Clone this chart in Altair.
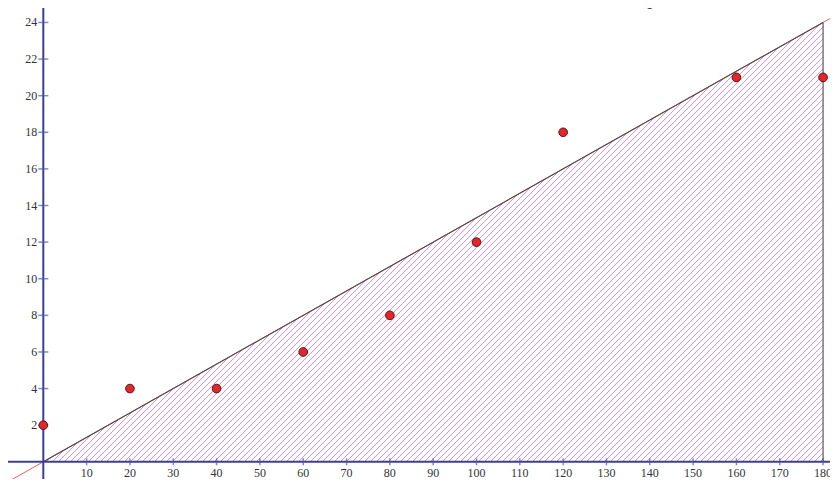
import altair as alt
import pandas as pd

# data
x_vals = [0, 20, 40, 60, 80, 100, 120, 140, 160, 180]
y_vals = [2, 4, 4, 6, 8, 12, 18, 25, 21, 21]
line_x = [0, 180]
line_y = [0, 24]
x_ticks = list(range(10, 190, 10))
y_ticks = list(range(2, 26, 2))

X_DOM = [-8.15, 181.6]
Y_DOM = [-0.94, 24.79]
W, H = 822, 471

xs = alt.Scale(domain=X_DOM, nice=False, zero=False)
ys = alt.Scale(domain=Y_DOM, nice=False, zero=False)

slope = (line_y[1] - line_y[0]) / (line_x[1] - line_x[0])

# decorative hatching inside the triangle (45 degrees on screen, ~6 px apart)
px_x = W / (X_DOM[1] - X_DOM[0])
px_y = H / (Y_DOM[1] - Y_DOM[0])
hs = px_x / px_y
step = 6.0 / px_x
hatch = []
c = step / 2
while c < line_x[1]:
    xe = hs * c / (hs - slope)
    if xe > line_x[1]:
        xe = line_x[1]
    hatch.append({"x": c, "y": 0, "x2": xe, "y2": hs * (xe - c)})
    c += step
hatch_df = pd.DataFrame(hatch)

pts = pd.DataFrame({"x": x_vals, "y": y_vals})

hatch_layer = alt.Chart(hatch_df).mark_rule(color="#da8cd3", strokeWidth=1, clip=True).encode(
    x=alt.X("x:Q", scale=xs, axis=None), y=alt.Y("y:Q", scale=ys, axis=None),
    x2="x2:Q", y2="y2:Q")

red_df = pd.DataFrame({"x": [X_DOM[0]], "y": [slope * X_DOM[0]], "x2": [X_DOM[1]], "y2": [slope * X_DOM[1]]})
red_layer = alt.Chart(red_df).mark_rule(color="#ff5a5a", strokeWidth=1, clip=True).encode(
    x=alt.X("x:Q", scale=xs, axis=None), y=alt.Y("y:Q", scale=ys, axis=None), x2="x2:Q", y2="y2:Q")

black_df = pd.DataFrame({"x": [line_x[0], line_x[1]], "y": [line_y[0], 0],
                         "x2": [line_x[1], line_x[1]], "y2": [line_y[1], line_y[1]]})
black_layer = alt.Chart(black_df).mark_rule(color="#4a4a4a", strokeWidth=1.1, clip=True).encode(
    x=alt.X("x:Q", scale=xs, axis=None), y=alt.Y("y:Q", scale=ys, axis=None), x2="x2:Q", y2="y2:Q")

axes_df = pd.DataFrame({"x": [X_DOM[0], 0], "y": [0, Y_DOM[0]], "x2": [X_DOM[1], 0], "y2": [0, Y_DOM[1]]})
axes_layer = alt.Chart(axes_df).mark_rule(color="#3b3f98", strokeWidth=2, clip=True).encode(
    x=alt.X("x:Q", scale=xs, axis=None), y=alt.Y("y:Q", scale=ys, axis=None), x2="x2:Q", y2="y2:Q")

xt_df = pd.DataFrame({"x": x_ticks, "y": [0] * len(x_ticks), "t": [str(v) for v in x_ticks]})
yt_df = pd.DataFrame({"x": [0] * len(y_ticks), "y": y_ticks, "t": [str(v) for v in y_ticks]})

xtick_layer = alt.Chart(xt_df).mark_tick(orient="vertical", color="#5055a8", size=7, thickness=1.5).encode(
    x=alt.X("x:Q", scale=xs, axis=None), y=alt.Y("y:Q", scale=ys, axis=None))
ytick_layer = alt.Chart(yt_df).mark_tick(orient="horizontal", color="#5055a8", size=10, thickness=1.5).encode(
    x=alt.X("x:Q", scale=xs, axis=None), y=alt.Y("y:Q", scale=ys, axis=None))

xlab_layer = alt.Chart(xt_df).mark_text(font="Liberation Serif", fontSize=12, color="#333333",
                                        baseline="alphabetic", dy=15).encode(
    x=alt.X("x:Q", scale=xs, axis=None), y=alt.Y("y:Q", scale=ys, axis=None), text="t:N")
ylab_layer = alt.Chart(yt_df).mark_text(font="Liberation Serif", fontSize=12, color="#333333",
                                        align="right", baseline="middle", dx=-6).encode(
    x=alt.X("x:Q", scale=xs, axis=None), y=alt.Y("y:Q", scale=ys, axis=None), text="t:N")

pts_layer = alt.Chart(pts).mark_point(filled=True, shape="circle", size=75, color="#e3262b",
                                      stroke="#5a1414", strokeWidth=1, opacity=1, clip=True).encode(
    x=alt.X("x:Q", scale=xs, axis=None), y=alt.Y("y:Q", scale=ys, axis=None))

chart = alt.layer(hatch_layer, red_layer, black_layer, axes_layer, xtick_layer, ytick_layer,
                  xlab_layer, ylab_layer, pts_layer).properties(
    width=W, height=H, padding=0, autosize=alt.AutoSizeParams(type="none"),
    background="white"
).configure_view(stroke=None)

chart.save("out.html", embed_options={"renderer": "svg", "actions": False})
